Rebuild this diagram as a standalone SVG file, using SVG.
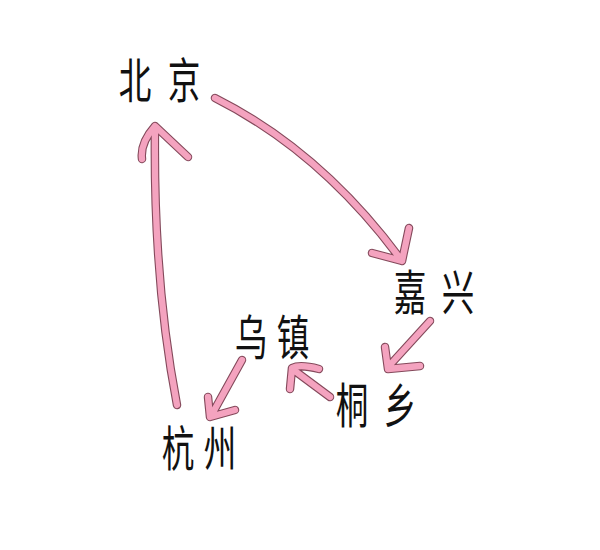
<svg xmlns="http://www.w3.org/2000/svg" xmlns:xlink="http://www.w3.org/1999/xlink" width="600" height="550" viewBox="0 0 600 550">
<style>
.lbl{font-family:"Noto Sans CJK SC","Noto Sans CJK TC",sans-serif;font-size:48px;fill:#111}
.ol{fill:none;stroke:#84495b;stroke-width:8.5;stroke-linecap:round;stroke-linejoin:round}
.pk{fill:none;stroke:#f4a3bf;stroke-width:6.3;stroke-linecap:round;stroke-linejoin:round}
</style>
<defs>
<path id="a1" d="M215,98 Q322,152 402,261 M372,253 L402,261 L409,228"/>
<path id="a2" d="M177,405 Q153,280 155,127 M142,159 Q140,143 155,126 L188,157"/>
<path id="a3" d="M430,321 L389,366 M385,347 L388,369 L420,366"/>
<path id="a4" d="M330,397 L295,371 M319,369 Q300,364 292,368 L290,389"/>
<path id="a5" d="M242,360 L211,416 M208,397 L210,417 L235,410"/>
</defs>
<rect width="600" height="550" fill="#fff"/>
<g id="connectors">
<use xlink:href="#a1" class="ol"/><use xlink:href="#a1" class="pk"/>
<use xlink:href="#a2" class="ol"/><use xlink:href="#a2" class="pk"/>
<use xlink:href="#a3" class="ol"/><use xlink:href="#a3" class="pk"/>
<use xlink:href="#a4" class="ol"/><use xlink:href="#a4" class="pk"/>
<use xlink:href="#a5" class="ol"/><use xlink:href="#a5" class="pk"/>
</g>
<g id="beijing" transform="translate(159.5,98) scale(0.68,1)"><text class="lbl" x="-60 -24 12">北 京</text></g>
<g id="jiaxing" transform="translate(434,310) scale(0.68,1)"><text class="lbl" x="-59.3 -24 11.3">嘉 兴</text></g>
<g id="wuzhen" transform="translate(272,355) scale(0.68,1)"><text class="lbl" x="-54.9 -24 6.9">乌 镇</text></g>
<g id="tongxiang" transform="translate(376,423) scale(0.68,1)"><text class="lbl" x="-59.3 -24 11.3">桐 乡</text></g>
<g id="hangzhou" transform="translate(199,466) scale(0.68,1)"><text class="lbl" x="-54.9 -24 6.9">杭 州</text></g>
</svg>
